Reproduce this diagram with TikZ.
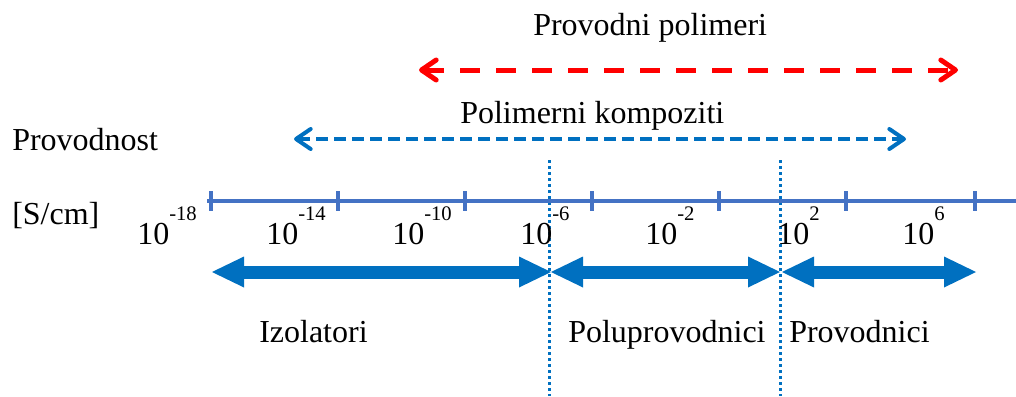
\documentclass[tikz,border=0pt]{standalone}
\usepackage{fontspec}
\setmainfont{Liberation Serif}
\usetikzlibrary{arrows.meta}
\definecolor{axisblue}{RGB}{68,114,196}
\definecolor{mblue}{RGB}{0,112,192}
\definecolor{mred}{RGB}{255,0,0}
\newcommand\myexp[1]{\raisebox{18pt}{\fontsize{15.5}{18}\selectfont #1}}
\begin{document}
\begin{tikzpicture}[x=0.75pt,y=-0.75pt,
  lbl/.style={anchor=base west,inner sep=0pt,font=\fontsize{24}{28}\selectfont},
  axisline/.style={axisblue,line width=3pt},
  tickmark/.style={axisblue,line width=3pt},
  bigarrow/.style={mblue,line width=9.75pt,
    {Triangle[length=24pt,width=23.25pt,line width=0pt]}-{Triangle[length=24pt,width=23.25pt,line width=0pt]}},
  redrange/.style={mred,line width=3.75pt,dash pattern=on 15pt off 12pt,
    {Straight Barb[length=11pt,width=15pt,round,line width=3.75pt]}-{Straight Barb[length=11pt,width=15pt,round,line width=3.75pt]}},
  bluerange/.style={mblue,line width=3pt,dash pattern=on 9pt off 4.5pt,
    {Straight Barb[length=11pt,width=15pt,round,line width=3pt]}-{Straight Barb[length=11pt,width=15pt,round,line width=3pt]}},
  divider/.style={mblue,line width=2.25pt,dash pattern=on 2.25pt off 2.25pt}]
\useasboundingbox (0,0) rectangle (1016,396);

% titles and ranges
\node[lbl] (pp) at (533,35) {Provodni polimeri};
\coordinate (r1) at (419,70);
\coordinate (r2) at (958,70);
\draw[redrange] (r1) -- (r2);

\node[lbl] (pk) at (460,123) {Polimerni kompoziti};
\coordinate (b1) at (294,139);
\coordinate (b2) at (906,139);
\draw[bluerange] (b1) -- (b2);

\node[lbl] (prov) at (12,150) {Provodnost};
\node[lbl] (unit) at (12,224) {[S/cm]};

% dividers
\coordinate (d1t) at (549,160);
\coordinate (d1b) at (549,396);
\coordinate (d2t) at (780,160);
\coordinate (d2b) at (780,396);
\draw[divider] (d1t) -- (d1b);
\draw[divider] (d2t) -- (d2b);

% axis
\coordinate (a0) at (207,201);
\coordinate (a1) at (1016,201);
\draw[axisline] (a0) -- (a1);
\foreach \x in {211,338,465,592,719,846,975}{
  \draw[tickmark] (\x,191) -- (\x,211);
}

% labels
\node[lbl] (e18) at (137,244) {10\myexp{-18}};
\node[lbl] (e14) at (266,244) {10\myexp{-14}};
\node[lbl] (e10) at (392,244) {10\myexp{-10}};
\node[lbl] (e6) at (520,244) {10\myexp{-6}};
\node[lbl] (e2m) at (645,244) {10\myexp{-2}};
\node[lbl] (e2) at (777,244) {10\myexp{2}};
\node[lbl] (e6p) at (902,244) {10\myexp{6}};

% big arrows
\coordinate (g0) at (212,272);
\coordinate (g1) at (551,272);
\coordinate (g2) at (780,272);
\coordinate (g2b) at (782,272);
\coordinate (g3) at (976,272);
\draw[bigarrow] (g0) -- (g1);
\draw[bigarrow] (g1) -- (g2);
\draw[bigarrow] (g2b) -- (g3);

\node[lbl] (iz) at (259,342) {Izolatori};
\node[lbl] (pol) at (568,342) {Poluprovodnici};
\node[lbl] (pr) at (789,342) {Provodnici};
\end{tikzpicture}
\end{document}
